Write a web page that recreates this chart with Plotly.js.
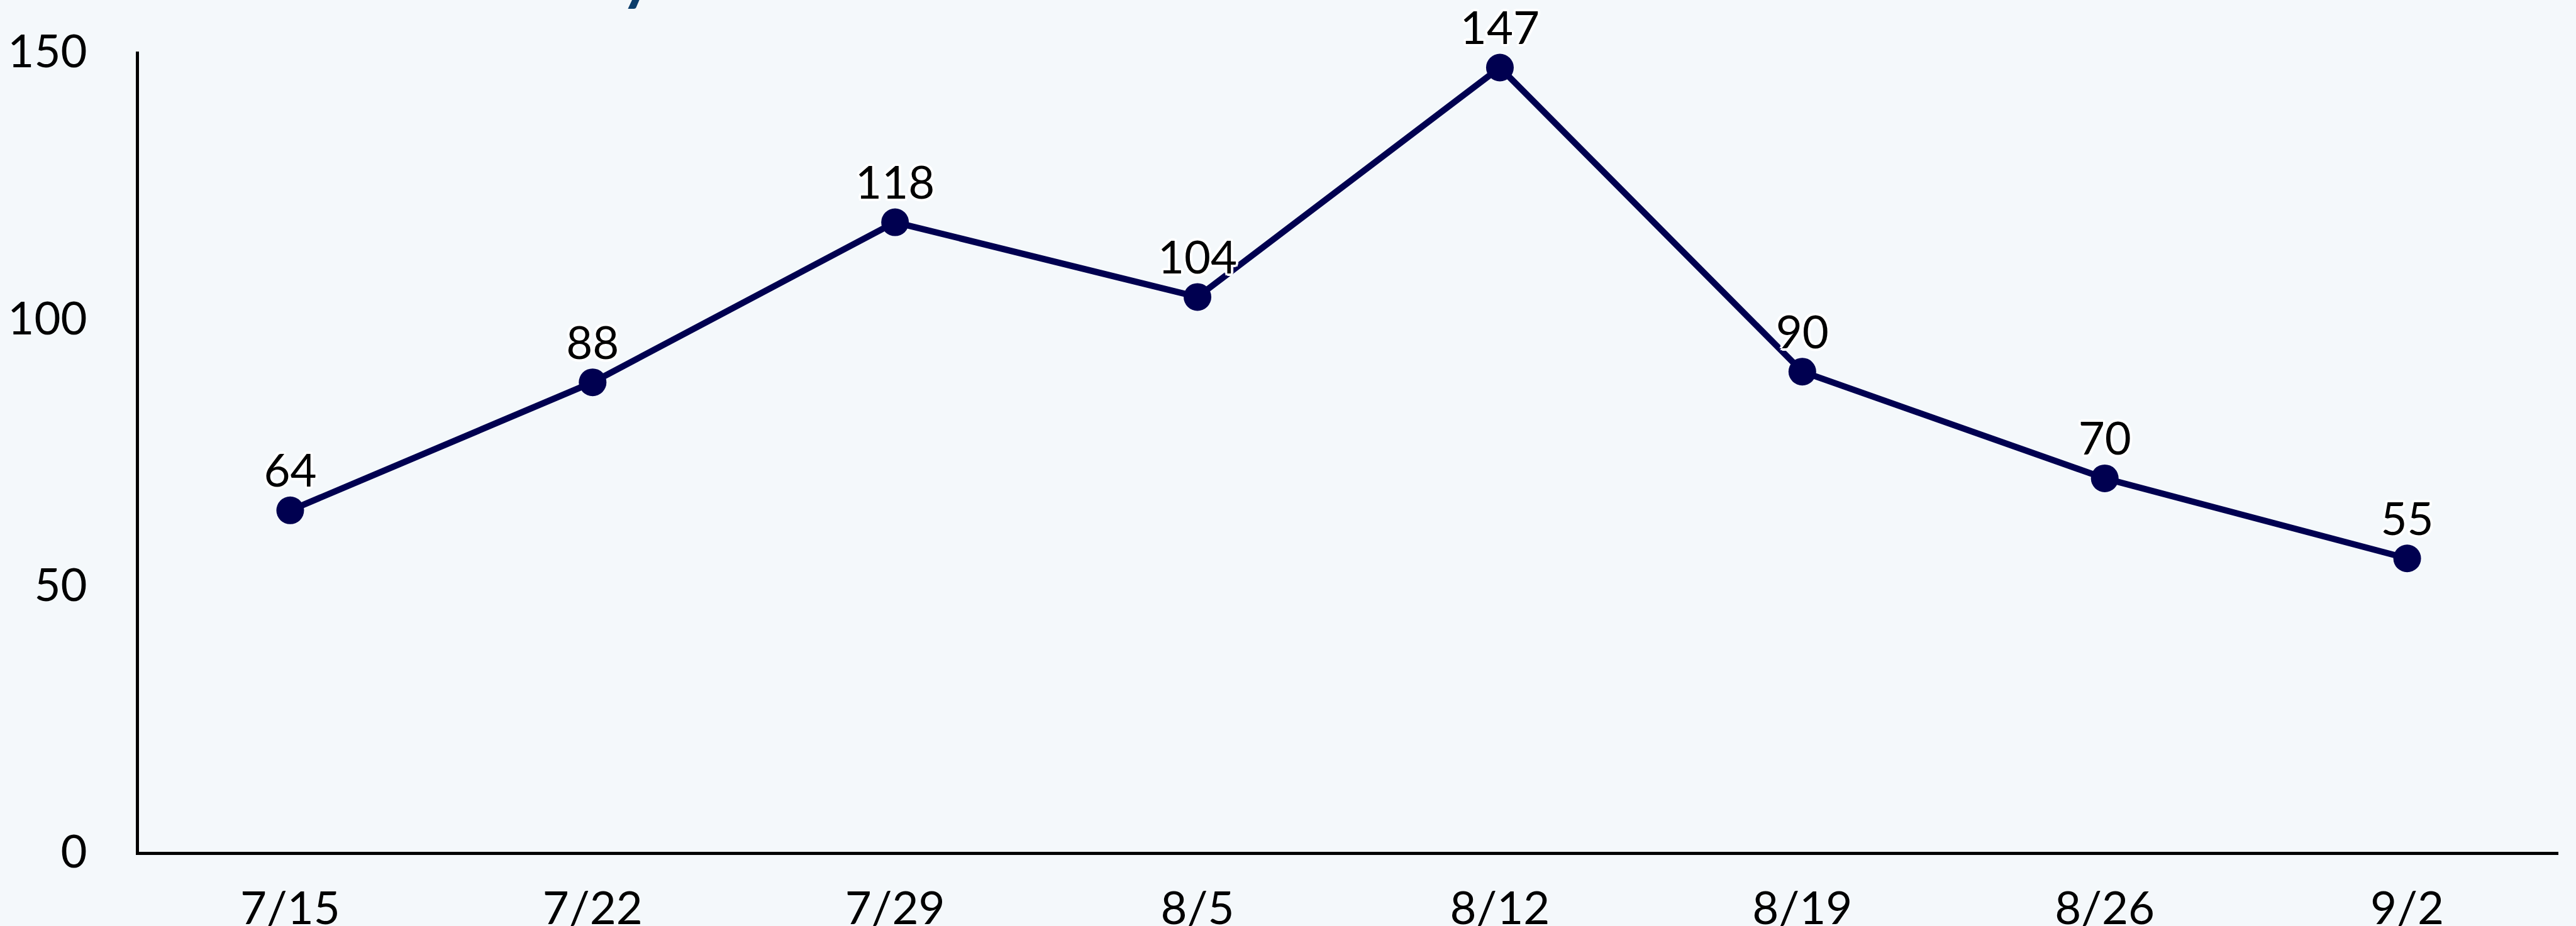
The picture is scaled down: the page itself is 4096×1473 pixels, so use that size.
<!DOCTYPE html>
<html>
<head>
<meta charset="utf-8">
<script src="https://cdn.plot.ly/plotly-3.0.1.min.js"></script>
<style>
  html, body { margin: 0; padding: 0; background: #f4f8fb; overflow: hidden; }
  #chart { width: 4096px; height: 1473px; }
</style>
</head>
<body>
<div id="chart"></div>
<script>
// ---- data ----
const weeks = ['7/15', '7/22', '7/29', '8/5', '8/12', '8/19', '8/26', '9/2'];
const counts = [64, 88, 118, 104, 147, 90, 70, 55];
const yTickVals = [0, 50, 100, 150];
const yTickText = ['0', '50', '100', '150'];
const titleText = 'Weekly';

// ---- styling ----
const W = 4096, H = 1473;
const M = { l: 221, r: 27.5, t: 82, b: 118 };
const plotW = W - M.l - M.r, plotH = H - M.t - M.b;
const FONT = 'Lato, "Open Sans", sans-serif';
const FS = 72.5;
const NAVY = '#000050';
const BG = '#f4f8fb';
const halo = '4px 0 0 #fff, -4px 0 0 #fff, 0 4px 0 #fff, 0 -4px 0 #fff, 3px 3px 0 #fff, -3px -3px 0 #fff, 3px -3px 0 #fff, -3px 3px 0 #fff';

const lineTrace = {
  type: 'scatter',
  mode: 'lines+markers',
  x: weeks,
  y: counts,
  line: { color: NAVY, width: 10 },
  marker: { color: NAVY, size: 44 },
  cliponaxis: false,
  hoverinfo: 'skip',
  showlegend: false
};

const labelTrace = {
  type: 'scatter',
  mode: 'markers+text',
  x: weeks,
  y: counts,
  text: counts.map(String),
  textposition: 'top center',
  textfont: { family: FONT, size: FS, color: '#000', shadow: halo },
  marker: { color: 'rgba(0,0,0,0)', size: 29.3 },
  cliponaxis: false,
  hoverinfo: 'skip',
  showlegend: false
};

// title sits mostly above the visible area (only the descender shows)
const titlePx = { xRight: 1042, bottom: 20 };

const layout = {
  width: W,
  height: H,
  margin: M,
  paper_bgcolor: BG,
  plot_bgcolor: BG,
  showlegend: false,
  font: { family: FONT, size: FS, color: '#000' },
  xaxis: {
    type: 'category',
    range: [-0.5, weeks.length - 0.5],
    showline: true,
    linecolor: '#000',
    linewidth: 5,
    ticks: '',
    showgrid: false,
    zeroline: false,
    tickfont: { family: FONT, size: FS, color: '#000' },
    ticklabelstandoff: 23,
    fixedrange: true
  },
  yaxis: {
    range: [0, 150],
    tickvals: yTickVals,
    ticktext: yTickText,
    showline: true,
    linecolor: '#000',
    linewidth: 5,
    ticks: '',
    showgrid: false,
    zeroline: false,
    tickfont: { family: FONT, size: FS, color: '#000' },
    ticklabelstandoff: 63,
    fixedrange: true
  },
  annotations: [{
    text: titleText,
    xref: 'paper', yref: 'paper',
    x: (titlePx.xRight - M.l) / plotW,
    y: 1 + (M.t - titlePx.bottom) / plotH,
    xanchor: 'right', yanchor: 'bottom',
    showarrow: false,
    font: { family: FONT, size: 100, color: '#0b3d6b', weight: 'bold' }
  }]
};

Plotly.newPlot('chart', [lineTrace, labelTrace], layout, { displayModeBar: false, staticPlot: true });
</script>
</body>
</html>
